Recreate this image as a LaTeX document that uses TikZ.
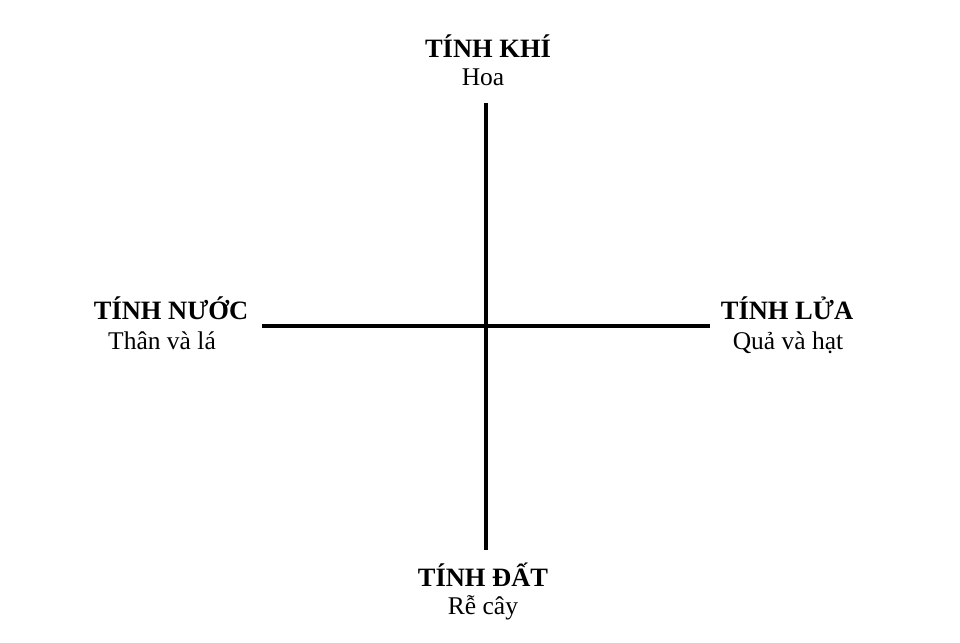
\documentclass[tikz,border=0pt]{standalone}
\usepackage{fontspec}
\setmainfont{Liberation Serif}
\begin{document}
\begin{tikzpicture}[x=1pt,y=-1pt,
  title/.style={anchor=base,inner sep=0pt,font=\fontsize{26.5}{29}\selectfont\bfseries},
  sub/.style={anchor=base,inner sep=0pt,font=\fontsize{25.5}{28}\selectfont},
  axis/.style={line width=4pt,black}]
\useasboundingbox[fill=white] (0,0) rectangle (960,642);
\coordinate (top) at (486,103);
\coordinate (bot) at (486,550);
\coordinate (left) at (262,326);
\coordinate (right) at (710,326);
\draw[axis] (top) -- (bot);
\draw[axis] (left) -- (right);
\node[title] (khi) at (488,57) {TÍNH KHÍ};
\node[sub] (hoa) at (483,85) {Hoa};
\node[title] (nuoc) at (171,319) {TÍNH NƯỚC};
\node[sub] (than) at (162,349) {Thân và lá};
\node[title] (lua) at (787,319) {TÍNH LỬA};
\node[sub] (qua) at (788,349) {Quả và hạt};
\node[title] (dat) at (483,586) {TÍNH ĐẤT};
\node[sub] (re) at (483,614) {Rễ cây};
\end{tikzpicture}
\end{document}
